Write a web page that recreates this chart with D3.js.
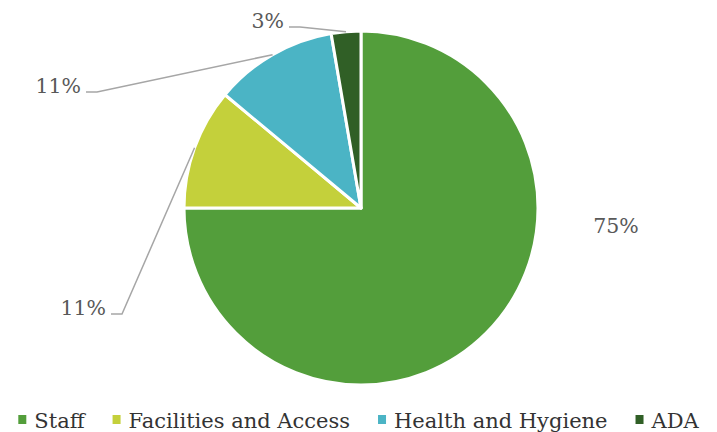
<!DOCTYPE html>
<html>
<head>
	<meta charset="utf-8">
	<script src="https://cdn.jsdelivr.net/npm/d3@7"></script>
	<style>
	body{
		margin: 0;
		background: #fff;
	}
	text{
		font-family: "DejaVu Serif", serif;
	}
	</style>
</head>
<body>
<svg id="chart" width="717" height="432"></svg>
<script>
	// data
	var categories = ["Staff", "Facilities and Access", "Health and Hygiene", "ADA"];
	var values = [75.0, 11.05, 11.25, 2.7];
	var labels = ["75%", "11%", "11%", "3%"];
	var colors = ["#539e3b", "#c4d03b", "#4bb4c5", "#305f26"];

	// where each label sits, relative to the pie centre (layout only)
	var labelPos = [
		{dx: 255, dy: 25, line: false},
		{dx: -255, dy: 107, line: true},
		{dx: -280, dy: -115, line: true},
		{dx: -77, dy: -180, line: true}
	];

	var svg = d3.select("#chart");
	var cx = 361, cy = 208, r = 177;

	var pie = d3.pie().sort(null).value(function(d){ return d; });
	var arcs = pie(values);
	var arc = d3.arc().innerRadius(0).outerRadius(r);

	var g = svg.append("g").attr("transform", "translate(" + cx + "," + cy + ")");

	g.selectAll("path.slice")
		.data(arcs)
		.enter()
		.append("path")
		.attr("class", "slice")
		.attr("d", arc)
		.attr("fill", function(d, i){ return colors[i]; })
		.attr("stroke", "#fff")
		.attr("stroke-width", 3)
		.attr("stroke-linejoin", "round");

	// labels + leader lines
	arcs.forEach(function(d, i){
		var p = labelPos[i];
		var mid = (d.startAngle + d.endAngle) / 2;
		var ex = r * Math.sin(mid), ey = -r * Math.cos(mid);
		g.append("text")
			.attr("x", p.dx)
			.attr("y", p.dy)
			.attr("text-anchor", p.line ? "end" : "middle")
			.attr("font-size", "20.5px")
			.attr("fill", "#595959")
			.text(labels[i]);
		if (p.line) {
			var ly = p.dy - 1;
			var pts = [[p.dx + 5, ly], [p.dx + 16, ly], [ex, ey]];
			g.append("polyline")
				.attr("points", pts.map(function(q){ return q.join(","); }).join(" "))
				.attr("fill", "none")
				.attr("stroke", "#a6a6a6")
				.attr("stroke-width", 1.5);
		}
	});

	// legend, centred under the chart
	var legend = svg.append("g");
	var x = 0;
	categories.forEach(function(c, i){
		var item = legend.append("g").attr("transform", "translate(" + x + ",0)");
		item.append("rect")
			.attr("x", 0).attr("y", -13)
			.attr("width", 8).attr("height", 9)
			.attr("fill", colors[i]);
		var t = item.append("text")
			.attr("x", 16)
			.attr("y", 0)
			.attr("font-size", "21px")
			.attr("fill", "#333333")
			.text(c);
		x += 16 + t.node().getComputedTextLength() + 28;
	});
	var totalW = x - 28;
	legend.attr("transform", "translate(" + (358.5 - totalW / 2) + ",428)");
</script>
</body>
</html>
